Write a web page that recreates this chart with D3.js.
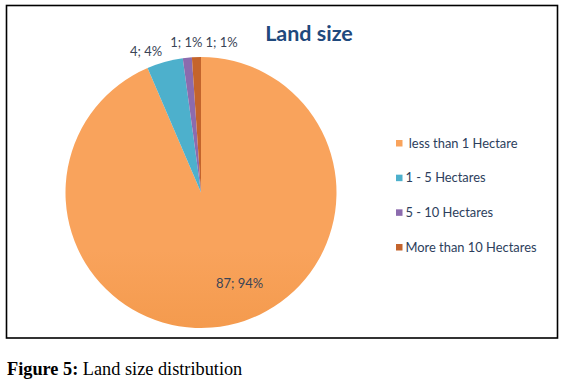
<!DOCTYPE html>
<html><head><meta charset="utf-8">
<script src="https://cdn.jsdelivr.net/npm/d3@7"></script>
<style>html,body{margin:0;padding:0;background:#fff;}</style>
</head><body>
<svg id="c" width="562" height="385"></svg>
<script>
const categories = ["less than 1 Hectare", "1 - 5 Hectares", "5 - 10 Hectares", "More than 10 Hectares"];
const values = [87, 4, 1, 1];
const percentLabels = ["94%", "4%", "1%", "1%"];
const colorsTop = ["#F9A35C", "#4DB0CC", "#8C6BAE", "#C4642C"];
const colorsBottom = ["#E8862B", "#3E9DB8", "#775A99", "#B2561F"];
const title = "Land size";
const caption = ["Figure 5:", " Land size distribution"];

const svg = d3.select("#c");
const cx = 201, cy = 192.5, r = 135.5;

// frame
svg.append("rect").attr("x", 6.5).attr("y", 5.5).attr("width", 551).attr("height", 332.5)
  .attr("fill", "#fff").attr("stroke", "#000").attr("stroke-width", 1.6);

// gradients
const defs = svg.append("defs");
categories.forEach((c, i) => {
  const g = defs.append("linearGradient").attr("id", "g" + i)
    .attr("gradientUnits", "userSpaceOnUse")
    .attr("x1", 0).attr("y1", cy - r).attr("x2", 0).attr("y2", cy + r);
  g.append("stop").attr("offset", "0%").attr("stop-color", colorsTop[i]);
  g.append("stop").attr("offset", "100%").attr("stop-color", colorsBottom[i]);
});

// title
svg.append("text").attr("x", 309).attr("y", 41).attr("text-anchor", "middle")
  .attr("font-family", "Lato, 'Open Sans', sans-serif").attr("font-weight", 700)
  .attr("font-size", 21.5).attr("fill", "#1F497D").text(title);

const pie = d3.pie().sort(null).value(d => d)(values);
const arc = d3.arc().innerRadius(0).outerRadius(r);
const g = svg.append("g").attr("transform", `translate(${cx},${cy})`);
g.selectAll("path").data(pie).join("path")
  .attr("d", arc).attr("fill", (d, i) => `url(#g${i})`);

// labels
const lblFont = "Lato, 'Open Sans', sans-serif";
const labelColor = "#3A4456";
const outerArc = d3.arc().innerRadius(r + 10).outerRadius(r + 10);
const innerArc = d3.arc().innerRadius(r * 0.72).outerRadius(r * 0.72);
let lastRight = -Infinity;
pie.forEach((d, i) => {
  const txt = values[i] + "; " + percentLabels[i];
  const t = g.append("text").attr("font-family", lblFont).attr("font-size", 13)
    .attr("fill", labelColor).attr("dy", "0.35em").text(txt);
  const w = t.node().getComputedTextLength();
  if (d.endAngle - d.startAngle > Math.PI) {
    const [x, y] = innerArc.centroid(d);
    t.attr("x", x + 19).attr("y", y - 5).attr("text-anchor", "middle");
  } else {
    const [x, y] = outerArc.centroid(d);
    const mid = (d.startAngle + d.endAngle) / 2;
    let left = Math.sin(mid) < -0.2 ? x - w : x - w / 2;
    if (left < lastRight + 3) left = lastRight + 3;
    lastRight = left + w;
    t.attr("x", left).attr("y", y - 5 + (Math.sin(mid) < -0.2 ? 4 : 0)).attr("text-anchor", "start");
  }
});

// legend
const legendY = d3.scalePoint().domain(categories).range([143, 247]);
const lg = svg.append("g");
categories.forEach((c, i) => {
  const y = legendY(c);
  lg.append("rect").attr("x", 396).attr("y", y - 3).attr("width", 6.5).attr("height", 6.5)
    .attr("fill", colorsTop[i]);
  lg.append("text").attr("x", 405.5).attr("y", y).attr("dy", "0.35em")
    .attr("font-family", lblFont).attr("font-size", 12.9).attr("fill", "#2C3E5C")
    .text((i === 0 ? "\u00a0" : "") + c);
});

// caption
const cap = svg.append("text").attr("x", 7).attr("y", 375)
  .attr("font-family", "'Liberation Serif', 'Times New Roman', serif").attr("font-size", 18.3).attr("fill", "#000");
cap.append("tspan").attr("font-weight", 700).text(caption[0]);
cap.append("tspan").text(caption[1]);
</script>
</body></html>
